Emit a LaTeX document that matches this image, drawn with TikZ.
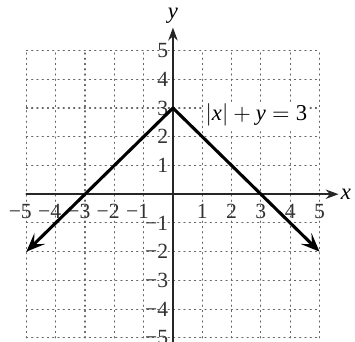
\documentclass[tikz,border=0pt]{standalone}
\usepackage{fontspec}
\setmainfont{Liberation Serif}
\usetikzlibrary{arrows.meta}

\begin{document}
\begin{tikzpicture}[
  x=.5cm,y=.49cm,
  line cap=round,line join=round,
  gridline/.style={draw=black!60, line width=.55pt, dotted},
  axis/.style={draw=black!85, line width=.9pt, -{Stealth[length=2.2mm,width=1.6mm]}},
  graph/.style={draw=black, line width=1.5pt, -{Stealth[length=3.2mm,width=2.6mm,inset=1.4mm]}},
  tick/.style={font=\fontsize{10.5}{11}\selectfont, text=black!80, inner sep=0pt},
  axlabel/.style={font=\fontsize{11}{12}\selectfont\itshape, inner sep=0pt}
]
\useasboundingbox (-5.90,-5.12) rectangle (6.21,6.76);

% dotted grid
\foreach \k in {-5,...,5}{
  \draw[gridline] (\k,-5) -- (\k,5);
  \draw[gridline] (-5,\k) -- (5,\k);
}

% equation label (masks grid behind it)
\node[fill=white, inner sep=1pt, font=\fontsize{11}{12}\selectfont] (eq) at (2.85,2.75)
  {$|\mbox{\itshape x}| + \mbox{\itshape y} = \mbox{3}$};

% axes
\coordinate (xmin) at (-5,0);
\coordinate (xmax) at (5.65,0);
\coordinate (ymin) at (0,-5.2);
\coordinate (ymax) at (0,5.8);
\draw[axis] (xmin) -- (xmax);
\draw[axis] (ymin) -- (ymax);
\node[axlabel] (xlab) at (5.9,-0.02) {x};
\node[axlabel] (ylab) at (0,6.2) {y};

% tick labels
\foreach \k in {1,...,5}{
  \node[tick] (xp\k) at (\k,-0.6) {\k};
  \node[tick] (xn\k) at (-\k,-0.6) {\llap{−}\k};
  \node[tick, anchor=east] (yp\k) at (-0.15,\k) {\k};
  \node[tick, anchor=east] (yn\k) at (-0.15,-\k) {−\k};
}

% graph of |x| + y = 3
\coordinate (apex) at (0,3);
\coordinate (lend) at (-5,-2);
\coordinate (rend) at (5,-2);
\draw[graph] (apex) -- (lend);
\draw[graph] (apex) -- (rend);

\end{tikzpicture}
\end{document}
